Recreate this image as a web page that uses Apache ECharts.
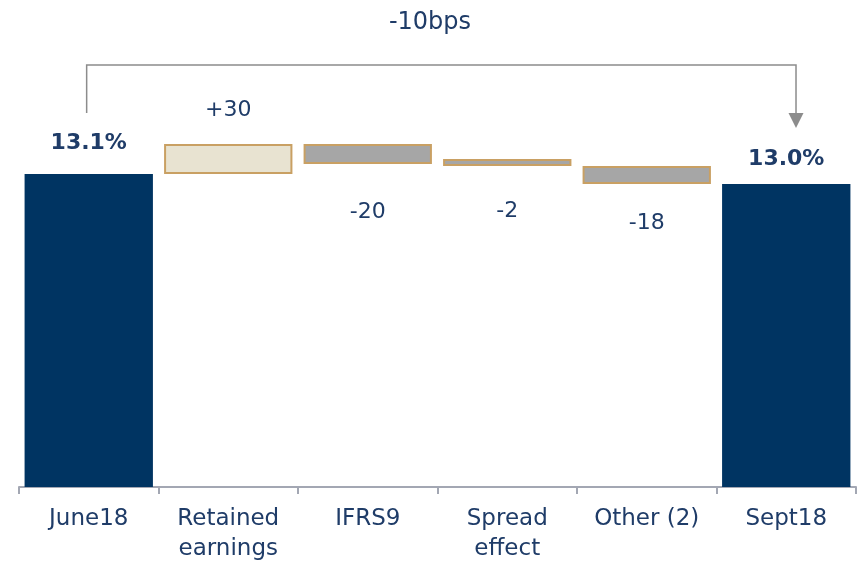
<!DOCTYPE html>
<html>
<head>
<meta charset="utf-8">
<script src="https://cdn.jsdelivr.net/npm/echarts@6/dist/echarts.min.js"></script>
<style>
html, body { margin: 0; padding: 0; background: #fff; }
#main { width: 860px; height: 561px; }
</style>
</head>
<body>
<div id="main"></div>
<script>
var categories = ['June18', 'Retained\nearnings', 'IFRS9', 'Spread\neffect', 'Other (2)', 'Sept18'];
var startValue = 1310;          // bps (13.1%)
var deltas = [30, -20, -2, -18];
var endValue = 1300;            // bps (13.0%)
var totalLabels = ['13.1%', '13.0%'];
var deltaLabels = ['+30', '-20', '-2', '-18'];
var labelGaps = [23, 37, 34, 28];
var bracketText = '-10bps';
var bracketLevels = [1419, 1371, 1356]; // top line, left end, arrow tip

var navy = '#003462';
var textColor = '#1f3c68';
var gold = '#c9a063';

var chart = echarts.init(document.getElementById('main'));

// waterfall: transparent base + visible part
var base = [0];
var shown = [{
    value: startValue,
    itemStyle: { color: navy },
    label: { show: true, position: 'top', distance: 20, formatter: totalLabels[0], fontSize: 22, fontWeight: 'bold', color: textColor }
}];
var running = startValue;
for (var i = 0; i < deltas.length; i++) {
    var d = deltas[i];
    if (d > 0) {
        base.push(running);
        running += d;
    } else {
        running += d;
        base.push(running);
    }
    shown.push({
        value: Math.abs(d),
        itemStyle: { color: d > 0 ? '#e8e3d1' : '#a6a6a6', borderColor: gold, borderWidth: 2 },
        label: {
            show: true,
            position: d > 0 ? 'top' : 'bottom',
            distance: labelGaps[i],
            formatter: deltaLabels[i],
            fontSize: 22,
            color: textColor
        }
    });
}
base.push(0);
shown.push({
    value: endValue,
    itemStyle: { color: navy },
    label: { show: true, position: 'top', distance: 14, formatter: totalLabels[1], fontSize: 22, fontWeight: 'bold', color: textColor }
});

var option = {
    backgroundColor: '#fff',
    animation: false,
    textStyle: { fontFamily: 'DejaVu Sans' },
    title: {
        text: bracketText,
        left: 'center',
        top: 6,
        textStyle: { fontSize: 24, fontWeight: 'normal', color: textColor, fontFamily: 'DejaVu Sans' }
    },
    grid: { left: 19, right: 4, top: 20, bottom: 74, outerBoundsMode: 'none' },
    xAxis: {
        type: 'category',
        data: categories,
        axisLine: { lineStyle: { color: '#a3a7b3', width: 2 } },
        axisTick: { show: true, length: 7, lineStyle: { color: '#a3a7b3', width: 2 } },
        axisLabel: { color: textColor, fontSize: 23, margin: 17, lineHeight: 30, interval: 0 }
    },
    yAxis: {
        type: 'value',
        min: 997,
        max: 1464,
        show: false,
        splitLine: { show: false }
    },
    series: [
        {
            name: 'base',
            type: 'bar',
            stack: 'wf',
            data: base,
            barCategoryGap: '8%',
            itemStyle: { color: 'transparent' },
            silent: true
        },
        {
            name: 'value',
            type: 'bar',
            stack: 'wf',
            data: shown,
            barCategoryGap: '8%',
            barMinHeight: 7
        },
        {
            name: 'bracket',
            type: 'custom',
            clip: false,
            silent: true,
            data: [[0, bracketLevels[0]]],
            renderItem: function (params, api) {
                var bw = api.size([1, 0])[0];
                var x0 = api.coord([0, bracketLevels[0]])[0] - bw * 0.015;
                var x1 = api.coord([5, bracketLevels[0]])[0] + bw * 0.07;
                var yTop = api.coord([0, bracketLevels[0]])[1];
                var yLeft = api.coord([0, bracketLevels[1]])[1];
                var yTip = api.coord([5, bracketLevels[2]])[1];
                var yHead = yTip - 15;
                return {
                    type: 'group',
                    children: [
                        {
                            type: 'polyline',
                            shape: { points: [[x0, yLeft], [x0, yTop], [x1, yTop], [x1, yHead]] },
                            style: { stroke: '#8c8c8c', lineWidth: 1.5, fill: null }
                        },
                        {
                            type: 'polygon',
                            shape: { points: [[x1 - 7.5, yHead], [x1 + 7.5, yHead], [x1, yTip]] },
                            style: { fill: '#8c8c8c' }
                        }
                    ]
                };
            }
        }
    ]
};
chart.setOption(option);
</script>
</body>
</html>
